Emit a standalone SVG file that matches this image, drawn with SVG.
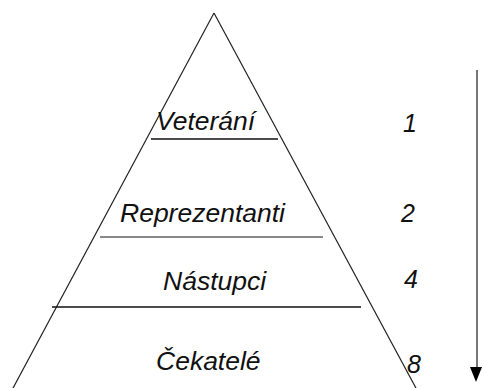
<svg xmlns="http://www.w3.org/2000/svg" width="482" height="388" viewBox="0 0 482 388">
  <defs>
    <style>
      .edge { stroke: #222; stroke-width: 1.2; fill: none; }
      .sep { stroke: #111; stroke-width: 1.3; }
      .sep-gray { stroke: #888; stroke-width: 2; }
      .label { font-family: "Liberation Sans", Arial, sans-serif; font-style: italic; font-size: 26.5px; fill: #111; }
      .num { font-family: "Liberation Sans", Arial, sans-serif; font-style: italic; font-size: 25px; fill: #111; }
      .arrow { stroke: #777; stroke-width: 2; fill: none; }
      .head { fill: #000; }
    </style>
  </defs>

  <rect width="482" height="388" fill="#fff"/>

  <!-- pyramid outline -->
  <g id="pyramid">
    <line class="edge" x1="214" y1="13" x2="12" y2="390"/>
    <line class="edge" x1="214" y1="13" x2="417" y2="390"/>
  </g>

  <!-- level dividers and the downward arrow -->
  <g id="connectors">
    <line class="sep" x1="151" y1="139" x2="278" y2="139"/>
    <line class="sep-gray" x1="100" y1="237" x2="323" y2="237"/>
    <line class="sep" x1="52" y1="307" x2="361" y2="307"/>
    <line class="arrow" x1="477" y1="70" x2="477" y2="368"/>
    <path class="head" d="M470,367 L482,367 L476,382 Z"/>
  </g>

  <g id="veterani">
    <text class="label" x="156" y="130">Veterání</text>
    <text class="num" x="403" y="132">1</text>
  </g>
  <g id="reprezentanti">
    <text class="label" x="120" y="222">Reprezentanti</text>
    <text class="num" x="401" y="222">2</text>
  </g>
  <g id="nastupci">
    <text class="label" x="163" y="290">Nástupci</text>
    <text class="num" x="404" y="288">4</text>
  </g>
  <g id="cekatele">
    <text class="label" x="156" y="370">Čekatelé</text>
    <text class="num" x="407" y="373">8</text>
  </g>
</svg>
